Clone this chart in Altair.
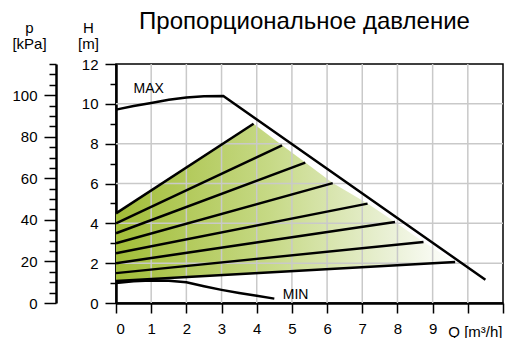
import altair as alt
import pandas as pd

# Proportional-pressure curves: head at zero flow and the end point of each curve
pp_h0 = [4.5, 4.0, 3.5, 3.0, 2.5, 2.0, 1.5, 1.1]
pp_end_q = [3.91, 4.72, 5.38, 6.16, 7.15, 7.93, 8.74, 9.64]
pp_end_h = [9.0, 7.92, 7.05, 6.02, 4.99, 4.07, 3.06, 2.06]

# Maximum and minimum pump curves
max_q = [0, 0.5, 1, 1.5, 2, 2.5, 3.05, 10.5]
max_h = [9.71, 9.89, 10.04, 10.2, 10.32, 10.38, 10.39, 1.17]
min_q = [0, 0.5, 1, 1.5, 2, 2.5, 3, 3.5, 4, 4.5]
min_h = [1.0, 1.09, 1.13, 1.12, 1.04, 0.84, 0.66, 0.5, 0.36, 0.22]

# Curve labels
curve_names = ["MAX", "MIN"]
curve_label_q = [0.5, 4.74]
curve_label_h = [10.53, 0.22]

# Axis ticks and grid
q_ticks = [i / 2 for i in range(23)]
h_ticks = list(range(13))
p_ticks = list(range(0, 116, 5))
grid_q = list(range(1, 11))
grid_h = [2, 4, 6, 8, 10]
p_domain = [0, 115]

FONT = "Liberation Sans"

# ---- tables ----
rows = []
for i, (h0, qe, he) in enumerate(zip(pp_h0, pp_end_q, pp_end_h)):
    rows.append({"curve": f"pp{i}", "q": 0.0, "h": h0})
    rows.append({"curve": f"pp{i}", "q": qe, "h": he})
for q, h in zip(max_q, max_h):
    rows.append({"curve": "max", "q": q, "h": h})
for q, h in zip(min_q, min_h):
    rows.append({"curve": "min", "q": q, "h": h})
lines_df = pd.DataFrame(rows)

# Shaded control range: between the highest curve / end points and the lowest curve
top_q = [0.0] + pp_end_q
top_h = [pp_h0[0]] + pp_end_h
low_h0, low_q1, low_h1 = pp_h0[-1], pp_end_q[-1], pp_end_h[-1]
band_df = pd.DataFrame({
    "q": top_q,
    "h": top_h,
    "h2": [low_h0 + (low_h1 - low_h0) * q / low_q1 for q in top_q],
})

labels_df = pd.DataFrame({"q": curve_label_q, "h": curve_label_h, "name": curve_names})
vgrid_df = pd.DataFrame({"q": grid_q})
hgrid_df = pd.DataFrame({"h": grid_h})
p_df = pd.DataFrame({"p": p_domain})

# ---- scales & axes ----
x_axis = alt.Axis(
    values=q_ticks,
    format="d",
    labelExpr="(datum.value % 1 == 0 && datum.value <= 9) ? datum.label : ''",
    tickSize={"condition": {"test": "datum.value % 1 == 0", "value": 10}, "value": 5},
    grid=False,
    title="Q [m³/h]",
    titleAnchor="end",
    titleAlign="right",
    titleBaseline="alphabetic",
    titleX=386,
    titleY=33,
    titleFontWeight="normal",
    titleFontSize=15,
    titleFont=FONT,
    labelPadding=8,
)
unit_title = dict(
    titleAngle=0,
    titleAlign="center",
    titleBaseline="top",
    titleY=-44,
    titleFontWeight="normal",
    titleFontSize=15,
    titleFont=FONT,
    titleLineHeight=16,
)
y_axis = alt.Axis(
    values=h_ticks,
    format="d",
    labelExpr="datum.value % 2 == 0 ? datum.label : ''",
    tickSize={"condition": {"test": "datum.value % 2 == 0", "value": 11}, "value": 6},
    grid=False,
    title=["H", "[m]"],
    titleX=-28,
    labelPadding=7,
    **unit_title,
)
p_axis = alt.Axis(
    orient="left",
    offset=60,
    values=p_ticks,
    format="d",
    labelExpr="(datum.value % 20 == 0 && datum.value <= 100) ? datum.label : ''",
    tickSize={"condition": {"test": "datum.value % 20 == 0", "value": 12}, "value": 7},
    grid=False,
    title=["p", "[kPa]"],
    titleX=-27,
    labelPadding=7,
    **unit_title,
)

x_scale = alt.Scale(domain=[0, 11], nice=False, zero=False)
y_scale = alt.Scale(domain=[0, 12], nice=False, zero=False)
X = alt.X("q:Q", scale=x_scale, axis=x_axis)
Y = alt.Y("h:Q", scale=y_scale, axis=y_axis)

gradient = alt.Gradient(
    gradient="linear",
    x1=0, x2=1, y1=0, y2=0,
    stops=[
        alt.GradientStop(offset=0, color="#a2bd38"),
        alt.GradientStop(offset=0.45, color="#c6d985"),
        alt.GradientStop(offset=0.8, color="#e9f0d4"),
        alt.GradientStop(offset=1, color="#ffffff"),
    ],
)

band = alt.Chart(band_df).mark_area(color=gradient, interpolate="linear").encode(
    x=X, y=Y, y2="h2:Q"
)
vgrid = alt.Chart(vgrid_df).mark_rule(color="#c9c9c9", strokeWidth=1.5).encode(x=X)
hgrid = alt.Chart(hgrid_df).mark_rule(color="#c9c9c9", strokeWidth=1.5).encode(y=Y)
curves = alt.Chart(lines_df).mark_line(color="black", strokeWidth=2.5).encode(
    x=X, y=Y, detail="curve:N"
)
texts = alt.Chart(labels_df).mark_text(
    align="left", baseline="alphabetic", font=FONT, fontSize=14, color="black"
).encode(x=X, y=Y, text="name:N")

head_chart = alt.layer(band, vgrid, hgrid, curves, texts)

# Pressure scale in kPa, drawn as a second axis left of the head axis
p_layer = alt.Chart(p_df).mark_point(opacity=0).encode(
    y=alt.Y("p:Q", scale=alt.Scale(domain=p_domain, nice=False, zero=False), axis=p_axis)
)

chart = (
    alt.layer(head_chart, p_layer)
    .resolve_scale(y="independent")
    .properties(
        width=387,
        height=239,
        autosize=alt.AutoSizeParams(type="none"),
        padding={"left": 116, "top": 64, "right": 2, "bottom": 35},
        title=alt.TitleParams(
            "Пропорциональное давление",
            font=FONT,
            fontSize=24,
            fontWeight="normal",
            color="black",
            anchor="middle",
            baseline="alphabetic",
            offset=-33,
            dx=-5,
        ),
    )
    .configure_view(stroke="black", strokeWidth=1.5)
    .configure_axis(
        domainColor="black",
        domainWidth=2.5,
        tickColor="black",
        tickWidth=1.5,
        labelColor="black",
        labelFont=FONT,
        labelFontSize=15,
        titleColor="black",
    )
)

chart.save("out.html", embed_options={"renderer": "svg", "actions": False})
